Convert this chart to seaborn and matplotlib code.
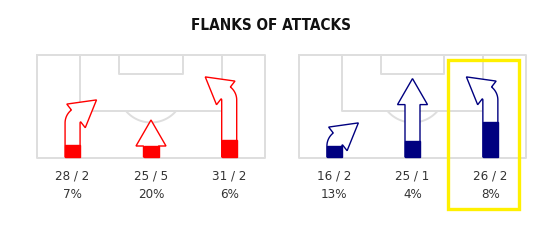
import numpy as np
import matplotlib
matplotlib.use("Agg")
import matplotlib.pyplot as plt
from matplotlib.patches import Polygon, Rectangle
from matplotlib import font_manager as fm
import seaborn as sns

# ---------------- data ----------------
title = "FLANKS OF ATTACKS"
flanks = ["left", "center", "right"]
home_attacks = [28, 25, 31]
home_shots = [2, 5, 2]
home_pct = [7, 20, 6]
away_attacks = [16, 25, 26]
away_shots = [2, 1, 2]
away_pct = [13, 4, 8]
highlight = ("away", "right")

# ---------------- style ----------------
sns.set_theme(style="white")
if any(f.name == "DejaVu Sans" and f.stretch == "condensed" for f in fm.fontManager.ttflist):
    FONT = ["DejaVu Sans"]
    STRETCH = "condensed"
else:
    FONT = ["Roboto", "DejaVu Sans"]
    STRETCH = "normal"
plt.rcParams["font.family"] = FONT

home_color = "#ff0000"
away_color = "#000080"
line_color = "#dedede"
text_color = "#333333"

fig = plt.figure(figsize=(5.55, 2.48), dpi=100)
ax = fig.add_axes([0, 0, 1, 1])
ax.set_xlim(0, 555)
ax.set_ylim(248, 0)
ax.axis("off")

# pitch layout (pixel space)
PITCH_TOP, PITCH_BOTTOM = 55, 158
PITCHES = {"home": (37, 265), "away": (299, 526)}
LANE_FRAC = {"left": 0.156, "center": 0.5, "right": 0.843}
TURN = {"left": 1, "center": 0, "right": -1}
STEM_W = 15
MIN_LEN, MAX_LEN = 11, 57


def draw_pitch(x0, x1):
    w = x1 - x0
    cx = (x0 + x1) / 2
    kw = dict(color=line_color, lw=1.4, zorder=1)
    ax.plot([x0, x1, x1, x0, x0],
            [PITCH_TOP, PITCH_TOP, PITCH_BOTTOM, PITCH_BOTTOM, PITCH_TOP], **kw)
    pa_half = w * 0.311
    ax.plot([cx - pa_half, cx - pa_half, cx + pa_half, cx + pa_half],
            [PITCH_TOP, 111, 111, PITCH_TOP], **kw)
    ga_half = w * 0.14
    ax.plot([cx - ga_half, cx - ga_half, cx + ga_half, cx + ga_half],
            [PITCH_TOP, 74, 74, PITCH_TOP], **kw)
    r = 33
    cy = 89.5
    a = np.linspace(0, np.pi, 100)
    xs = cx + r * np.cos(a)
    ys = cy + r * np.sin(a)
    m = ys >= 111
    ax.plot(xs[m], ys[m], **kw)


def arrow_polygon(cx, y0, stem_len, turn, R=9.0, theta=np.deg2rad(52),
                  head_len=26.0, head_half=15.0):
    h = STEM_W / 2
    yb = y0 - stem_len
    if turn == 0:
        pts = [(cx - h, y0), (cx - h, yb), (cx - head_half, yb), (cx, yb - head_len),
               (cx + head_half, yb), (cx + h, yb), (cx + h, y0)]
        return pts
    s = turn
    phis = np.linspace(0, theta, 20)
    P = np.stack([cx + s * R - s * R * np.cos(phis), yb - R * np.sin(phis)], axis=1)
    D = np.stack([s * np.sin(phis), -np.cos(phis)], axis=1)
    N = np.stack([D[:, 1], -D[:, 0]], axis=1)
    left = P + h * N
    right = P - h * N
    E, d, n = P[-1], D[-1], N[-1]
    pts = [(cx - h, y0)]
    pts += [tuple(p) for p in left]
    pts += [tuple(E + head_half * n), tuple(E + head_len * d), tuple(E - head_half * n)]
    pts += [tuple(p) for p in right[::-1]]
    pts += [(cx + h, y0)]
    return pts


def draw_team(team, attacks, shots, pct, color):
    x0, x1 = PITCHES[team]
    draw_pitch(x0, x1)
    amin, amax = min(attacks), max(attacks)
    pmax = max(pct)
    for flank, a, sh, p in zip(flanks, attacks, shots, pct):
        cx = x0 + LANE_FRAC[flank] * (x1 - x0)
        stem_len = MIN_LEN + (a - amin) / (amax - amin) * (MAX_LEN - MIN_LEN)
        y0 = PITCH_BOTTOM - 1
        pts = arrow_polygon(cx, y0, stem_len, TURN[flank])
        ax.add_patch(Polygon(pts, closed=True, facecolor="white", edgecolor=color,
                             lw=1.0, zorder=3, joinstyle="miter"))
        fill_h = stem_len * p / pmax
        ax.add_patch(Rectangle((cx - STEM_W / 2, y0 - fill_h), STEM_W, fill_h,
                               facecolor=color, edgecolor=color, lw=1.0, zorder=4))
        ax.text(cx, 176, f"{a} / {sh}", ha="center", va="center", fontsize=9.5,
                color=text_color, family=FONT, fontstretch=STRETCH)
        ax.text(cx, 194, f"{p}%", ha="center", va="center", fontsize=9.5,
                color=text_color, family=FONT, fontstretch=STRETCH)
        if (team, flank) == highlight:
            ax.add_patch(Rectangle((447.5, 60), 71.5, 148.5, facecolor="none",
                                   edgecolor="#fff000", lw=2.4, zorder=5))


draw_team("home", home_attacks, home_shots, home_pct, home_color)
draw_team("away", away_attacks, away_shots, away_pct, away_color)

ax.text(271, 26, title, ha="center", va="center", fontsize=11, fontweight="bold",
        color="#111111", family=FONT, fontstretch=STRETCH)

fig.savefig("out.png", dpi=100, facecolor="white")
